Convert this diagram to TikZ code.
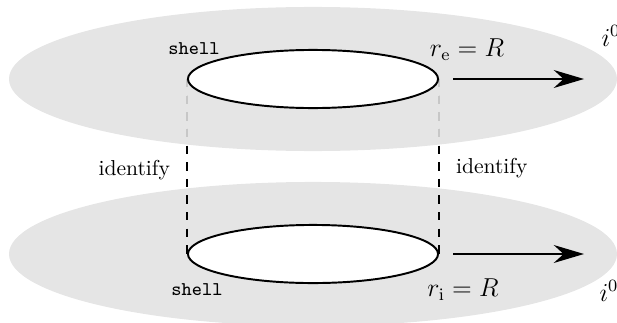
\documentclass[tikz,border=0pt]{standalone}
\usetikzlibrary{shapes.geometric, arrows.meta, positioning}
\pgfdeclarelayer{sheets}
\pgfdeclarelayer{seams}
\pgfsetlayers{sheets,seams,main}
\tikzstyle{sheet} = [ellipse, fill=black!10, inner sep=0pt, minimum width=281.5pt, minimum height=66.7pt]
\tikzstyle{shellring} = [ellipse, draw=black, line width=0.9pt, fill=white, inner sep=0pt, minimum width=115.8pt, minimum height=26.9pt]
\tikzstyle{seam} = [line width=1.1pt, dash pattern=on 3.9pt off 3.8pt]
\tikzstyle{arrow} = [line width=0.75pt, -{Stealth[length=14pt, width=8.3pt]}]
\tikzstyle{tag} = [font=\small\ttfamily, inner sep=0pt]
\tikzstyle{mathtag} = [font=\large, inner sep=0pt]

\begin{document}
\begin{tikzpicture}[x=0.463pt, y=0.463pt]
	\useasboundingbox (0,0) rectangle (617,322);

	% Planes
	\begin{pgfonlayer}{sheets}
		\node (topsheet) [sheet] at (313,243) {};
		\node (lowsheet) [sheet] at (313,68) {};
	\end{pgfonlayer}

	% Shells
	\node (topshell) [shellring] at (313,243) {};
	\node (lowshell) [shellring] at (313,68) {};

	% Identification lines
	\begin{pgfonlayer}{seams}
		\draw [seam] (topshell.west) -- node[pos=0.52, left=4pt] {identify} (lowshell.west);
		\draw [seam] (topshell.east) -- node[pos=0.51, right=4pt] {identify} (lowshell.east);
		\begin{scope}
			\clip (topsheet.center) ellipse [x radius=140.75pt, y radius=33.35pt];
			\draw [seam, draw=black!22] (topshell.west) -- (lowshell.west);
			\draw [seam, draw=black!22] (topshell.east) -- (lowshell.east);
		\end{scope}
	\end{pgfonlayer}

	% Arrows to spatial infinity
	\coordinate (topfar) at (584,243);
	\coordinate (lowfar) at (584,68);
	\draw [arrow] ([xshift=6.5pt]topshell.east) -- (topfar);
	\draw [arrow] ([xshift=6.5pt]lowshell.east) -- (lowfar);

	% Labels
	\node (topshelltag) [tag] at (194,273) {shell};
	\node (lowshelltag) [tag] at (197,32) {shell};
	\node (exttag) [mathtag] at (467,272) {$r_{\rm e} = R$};
	\node (inttag) [mathtag] at (463,32) {$r_{\rm i} = R$};
	\node (topinf) [mathtag] at (611,286) {$i^0$};
	\node (lowinf) [mathtag] at (609,31) {$i^0$};

\end{tikzpicture}
\end{document}
